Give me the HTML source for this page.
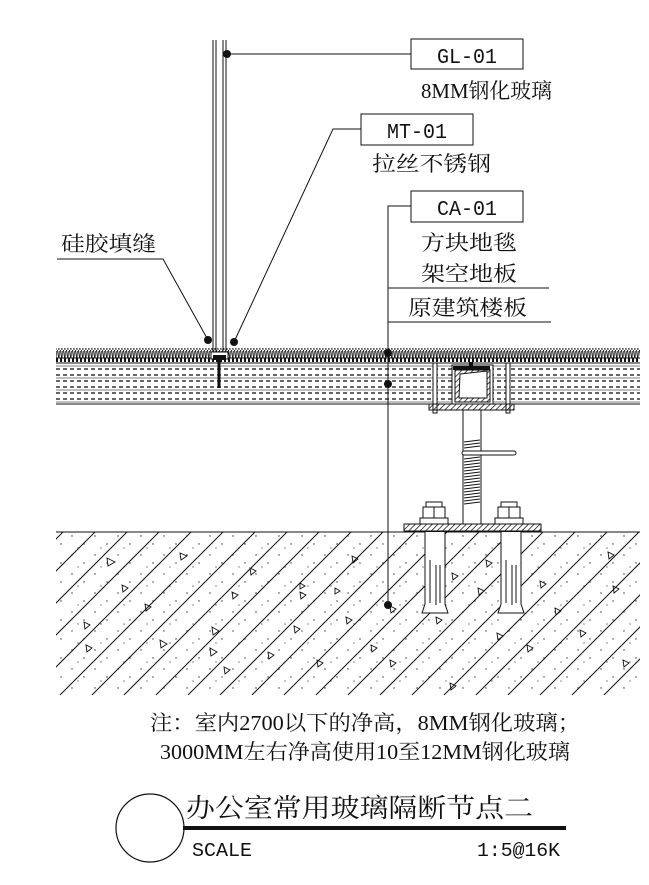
<!DOCTYPE html>
<html><head><meta charset="utf-8"><style>
html,body{margin:0;padding:0;background:#fff}
svg{display:block}
text{font-family:"Liberation Serif","Noto Serif CJK SC",serif;fill:#111}
.c{font-family:"Liberation Mono","Noto Serif CJK SC",monospace}
</style></head><body>
<svg width="649" height="885" viewBox="0 0 649 885" xmlns="http://www.w3.org/2000/svg">
<defs>
<pattern id="grass" width="3" height="10" patternUnits="userSpaceOnUse">
<line x1="0.5" y1="0" x2="2" y2="10" stroke="#111" stroke-width="1"/>
<line x1="2.5" y1="1" x2="2" y2="10" stroke="#333" stroke-width="0.8"/>
</pattern>
<pattern id="hatch" width="4" height="4" patternUnits="userSpaceOnUse" patternTransform="rotate(45)">
<line x1="0" y1="0" x2="0" y2="4" stroke="#111" stroke-width="1.5"/>
</pattern>
<pattern id="dots" width="23" height="19" patternUnits="userSpaceOnUse">
<circle cx="3" cy="4" r="0.7" fill="#333"/><circle cx="15" cy="12" r="0.7" fill="#333"/><circle cx="9" cy="16" r="0.6" fill="#333"/>
</pattern>
<clipPath id="cc"><rect x="56" y="532" width="584" height="163"/></clipPath>
</defs>

<g stroke="#111" stroke-width="1">
<line x1="213" y1="40" x2="213" y2="352"/><line x1="216" y1="40" x2="216" y2="352"/>
<line x1="223" y1="40" x2="223" y2="352"/><line x1="226" y1="40" x2="226" y2="352"/>
</g>

<rect x="56" y="348" width="584" height="10" fill="url(#grass)"/>
<line x1="56" y1="358" x2="640" y2="358" stroke="#111"/>
<line x1="56" y1="360" x2="640" y2="360" stroke="#111" stroke-width="4" stroke-dasharray="2 2"/>
<line x1="56" y1="363" x2="640" y2="363" stroke="#111"/>
<g stroke="#333" stroke-width="1.6" stroke-dasharray="4 3">
<line x1="56" y1="369" x2="640" y2="369"/><line x1="56" y1="375" x2="640" y2="375"/>
<line x1="56" y1="381" x2="640" y2="381"/><line x1="56" y1="387" x2="640" y2="387"/>
<line x1="56" y1="393" x2="640" y2="393"/><line x1="56" y1="399" x2="640" y2="399"/>
</g>
<g stroke="#555" stroke-width="0.7">
<line x1="56" y1="366" x2="640" y2="366"/><line x1="56" y1="378" x2="640" y2="378"/><line x1="56" y1="390" x2="640" y2="390"/><line x1="56" y1="402" x2="640" y2="402"/>
</g>
<line x1="56" y1="404" x2="640" y2="404" stroke="#111"/>
<rect x="211" y="352" width="17" height="7" fill="#fff" stroke="#111"/>
<rect x="213" y="355" width="13" height="5" fill="#111"/>
<line x1="219" y1="360" x2="219" y2="388" stroke="#111" stroke-width="3"/>

<rect x="452" y="365" width="41" height="39" fill="#fff" stroke="#111"/>
<rect x="455" y="370" width="35" height="32" fill="url(#hatch)" stroke="#111"/>
<polygon points="460,374 487,371 487,398 459,398" fill="#fff" stroke="#111"/>
<rect x="453" y="366" width="37" height="4" fill="#111"/>
<rect x="469" y="362" width="4" height="4" fill="#111"/>
<rect x="433" y="363" width="4" height="50" fill="#fff" stroke="#111"/>
<rect x="506" y="363" width="4" height="50" fill="#fff" stroke="#111"/>
<rect x="429" y="404" width="85" height="6" fill="url(#hatch)" stroke="#111"/>
<rect x="463" y="410" width="18" height="114" fill="#fff" stroke="#111"/>
<g stroke="#111" stroke-width="1">
<line x1="464" y1="442" x2="480" y2="440"/><line x1="464" y1="445" x2="480" y2="443"/><line x1="464" y1="448" x2="480" y2="446"/>
<line x1="464" y1="459" x2="480" y2="457"/><line x1="464" y1="462" x2="480" y2="460"/><line x1="464" y1="465" x2="480" y2="463"/><line x1="464" y1="468" x2="480" y2="466"/><line x1="464" y1="471" x2="480" y2="469"/><line x1="464" y1="474" x2="480" y2="472"/><line x1="464" y1="477" x2="480" y2="475"/><line x1="464" y1="480" x2="480" y2="478"/><line x1="464" y1="483" x2="480" y2="481"/><line x1="464" y1="486" x2="480" y2="484"/><line x1="464" y1="489" x2="480" y2="487"/><line x1="464" y1="492" x2="480" y2="490"/><line x1="464" y1="495" x2="480" y2="493"/><line x1="464" y1="498" x2="480" y2="496"/><line x1="464" y1="501" x2="480" y2="499"/><line x1="464" y1="504" x2="480" y2="502"/>
</g>
<rect x="462" y="451" width="54" height="4" rx="2" fill="#fff" stroke="#111"/>
<g fill="#fff" stroke="#111">
<rect x="426" y="502" width="16" height="5"/><rect x="423" y="507" width="22" height="11"/><line x1="434" y1="507" x2="434" y2="518"/><rect x="420" y="518" width="28" height="6"/>
<rect x="501" y="502" width="16" height="5"/><rect x="498" y="507" width="22" height="11"/><line x1="509" y1="507" x2="509" y2="518"/><rect x="495" y="518" width="28" height="6"/>
</g>
<rect x="404" y="524" width="137" height="7" fill="url(#hatch)" stroke="#111"/>

<rect x="56" y="532" width="584" height="163" fill="url(#dots)"/>
<g clip-path="url(#cc)" stroke="#111" stroke-width="1">
<line x1="-100" y1="695" x2="63" y2="532"/><line x1="-68" y1="695" x2="95" y2="532"/><line x1="-36" y1="695" x2="127" y2="532"/><line x1="-4" y1="695" x2="159" y2="532"/><line x1="28" y1="695" x2="191" y2="532"/><line x1="60" y1="695" x2="223" y2="532"/><line x1="92" y1="695" x2="255" y2="532"/><line x1="124" y1="695" x2="287" y2="532"/><line x1="156" y1="695" x2="319" y2="532"/><line x1="188" y1="695" x2="351" y2="532"/><line x1="220" y1="695" x2="383" y2="532"/><line x1="252" y1="695" x2="415" y2="532"/><line x1="284" y1="695" x2="447" y2="532"/><line x1="316" y1="695" x2="479" y2="532"/><line x1="348" y1="695" x2="511" y2="532"/><line x1="380" y1="695" x2="543" y2="532"/><line x1="412" y1="695" x2="575" y2="532"/><line x1="444" y1="695" x2="607" y2="532"/><line x1="476" y1="695" x2="639" y2="532"/><line x1="508" y1="695" x2="671" y2="532"/><line x1="540" y1="695" x2="703" y2="532"/><line x1="572" y1="695" x2="735" y2="532"/><line x1="604" y1="695" x2="767" y2="532"/>
</g>
<g fill="none" stroke="#111" stroke-width="0.9">
<path d="M107,558 l8,4 l-7,4z M180,553 l7,3 l-6,4z M122,585 l6,3 l-5,4z M232,592 l6,3 l-5,4z M250,568 l6,3 l-5,4z M212,627 l7,4 l-6,4z M300,592 l6,3 l-5,4z M352,556 l6,3 l-5,4z M335,588 l5,3 l-5,3z M294,626 l6,3 l-5,4z M160,640 l7,4 l-6,4z M224,667 l6,3 l-5,4z M268,652 l6,3 l-5,4z M210,648 l7,4 l-6,4z M346,617 l6,3 l-5,4z M390,606 l6,3 l-5,4z M317,660 l6,3 l-5,4z M452,573 l6,3 l-5,4z M486,560 l6,3 l-5,4z M478,588 l6,3 l-5,4z M540,581 l6,3 l-5,4z M555,608 l6,3 l-5,4z M613,586 l6,3 l-5,4z M608,552 l6,3 l-5,4z M497,633 l6,3 l-5,4z M436,617 l6,3 l-5,4z M580,630 l6,3 l-5,4z M450,683 l6,3 l-5,4z M371,645 l6,3 l-5,4z M84,622 l6,3 l-5,4z M86,645 l6,3 l-5,4z M300,583 l5,3 l-5,3z M145,604 l6,3 l-5,4z M623,660 l6,3 l-5,4z M527,645 l6,3 l-5,4z M390,660 l6,3 l-5,4z"/>
</g>
<line x1="56" y1="532" x2="640" y2="532" stroke="#111"/>
<g fill="#fff" stroke="#111">
<path d="M425,532 v72 l-3,9 h26 l-3,-9 v-72"/><line x1="430" y1="560" x2="430" y2="603"/><line x1="436" y1="565" x2="436" y2="605"/><line x1="440" y1="565" x2="440" y2="603"/>
<path d="M501,532 v72 l-3,9 h26 l-3,-9 v-72"/><line x1="506" y1="560" x2="506" y2="603"/><line x1="512" y1="565" x2="512" y2="605"/><line x1="516" y1="565" x2="516" y2="603"/>
</g>

<g stroke="#111" stroke-width="1" fill="none">
<line x1="227" y1="54" x2="411" y2="54"/>
<polyline points="361,129 333,129 234,342"/>
<polyline points="57,259 163,259 208,340"/>
<polyline points="411,206 388,206 388,605"/>
<line x1="388" y1="288" x2="549" y2="288"/>
<line x1="388" y1="322" x2="551" y2="322"/>
<rect x="411" y="39" width="112" height="30"/>
<rect x="361" y="114" width="112" height="31"/>
<rect x="411" y="191" width="112" height="31"/>
</g>
<g fill="#111">
<circle cx="227" cy="54" r="4"/><circle cx="234" cy="342" r="4"/><circle cx="208" cy="340" r="4"/>
<circle cx="388" cy="353" r="4"/><circle cx="388" cy="384" r="4"/><circle cx="388" cy="605" r="4"/>
</g>

<g font-size="21">
<text class="c" x="437" y="63" textLength="60" lengthAdjust="spacingAndGlyphs">GL-01</text>
<text x="421" y="98" textLength="131" lengthAdjust="spacingAndGlyphs">8MM钢化玻璃</text>
<text class="c" x="387" y="138" textLength="60" lengthAdjust="spacingAndGlyphs">MT-01</text>
<text x="372" y="171" textLength="119" lengthAdjust="spacingAndGlyphs">拉丝不锈钢</text>
<text class="c" x="437" y="215" textLength="60" lengthAdjust="spacingAndGlyphs">CA-01</text>
<text x="421" y="250" textLength="96" lengthAdjust="spacingAndGlyphs">方块地毯</text>
<text x="421" y="281" textLength="96" lengthAdjust="spacingAndGlyphs">架空地板</text>
<text x="408" y="315" textLength="119" lengthAdjust="spacingAndGlyphs">原建筑楼板</text>
<text x="61" y="251" textLength="95" lengthAdjust="spacingAndGlyphs">硅胶填缝</text>
<text x="150" y="730" textLength="430" lengthAdjust="spacingAndGlyphs">注：室内2700以下的净高，8MM钢化玻璃；</text>
<text x="160" y="759" textLength="410" lengthAdjust="spacingAndGlyphs">3000MM左右净高使用10至12MM钢化玻璃</text>
<text x="186" y="817" font-size="26" textLength="347" lengthAdjust="spacingAndGlyphs">办公室常用玻璃隔断节点二</text>
<text class="c" x="192" y="856" font-size="19" textLength="60" lengthAdjust="spacingAndGlyphs">SCALE</text>
<text class="c" x="477" y="856" font-size="19" textLength="83" lengthAdjust="spacingAndGlyphs">1:5@16K</text>
</g>
<circle cx="150" cy="828" r="34" fill="none" stroke="#111" stroke-width="1.2"/>
<line x1="183" y1="828" x2="566" y2="828" stroke="#111" stroke-width="4"/>
</svg>
</body></html>
